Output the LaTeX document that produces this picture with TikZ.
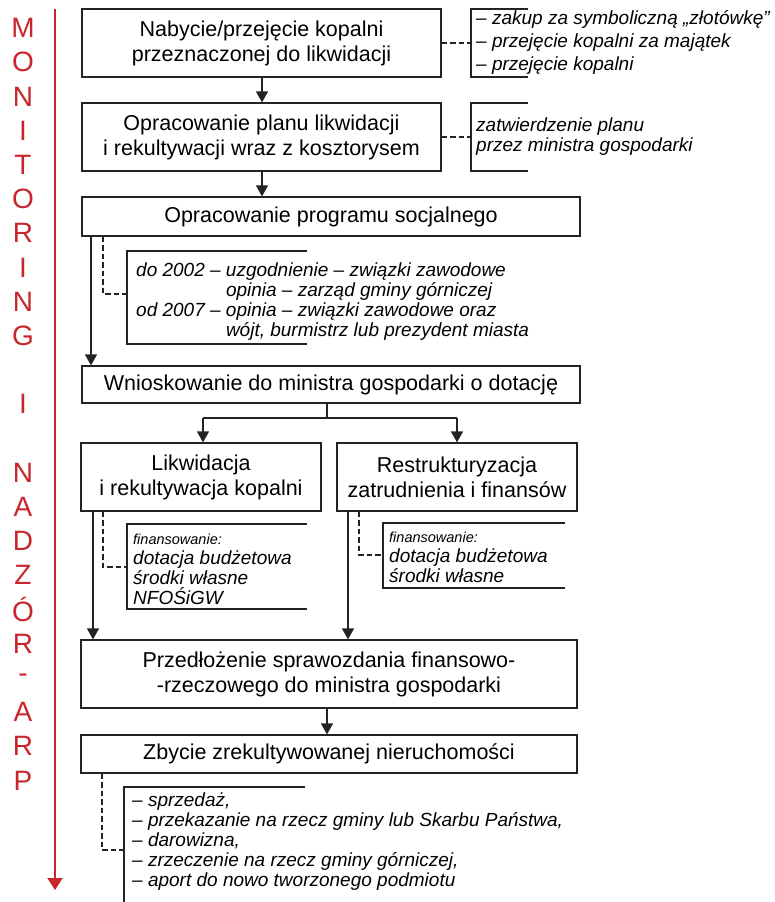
\documentclass[tikz,border=0pt]{standalone}
\usepackage{fontspec}
\setmainfont{Liberation Sans}
\usetikzlibrary{arrows.meta}

\definecolor{monred}{RGB}{200,38,44}
\definecolor{ink}{RGB}{35,35,35}

\begin{document}
\begin{tikzpicture}[x=1pt,y=-1pt,
  box/.style={draw=ink, line width=1.2pt, inner sep=0pt, align=center,
              font=\fontsize{21.5}{25}\selectfont},
  note/.style={anchor=west, inner sep=0pt, align=left,
               font=\itshape\fontsize{19}{20}\selectfont},
  bracket/.style={draw=ink, line width=1.1pt},
  link/.style={draw=ink, line width=1.1pt, dash pattern=on 5.5pt off 3pt},
  arr/.style={draw=ink, line width=1.2pt, -{Triangle[width=12pt,length=11pt]}},
  flow/.style={draw=ink, line width=1.2pt},
  letter/.style={text=monred, inner sep=0pt, font=\fontsize{28}{28}\selectfont}
]
\useasboundingbox (0,0) rectangle (775,902);

% vertical monitoring axis
\coordinate (mtop) at (55,9);
\coordinate (mbot) at (55,890);
\draw[monred, line width=2pt, -{Triangle[width=15pt,length=12pt]}] (mtop) -- (mbot);
\foreach \ch/\k in {M/0,O/1,N/2,I/3,T/4,O/5,R/6,I/7,N/8,G/9,I/11,
                    N/13,A/14,D/15,Z/16,Ó/17,R/18,-/19,A/20,R/21,P/22}
  \node[letter] (m\k) at (23,28+34.2*\k) {\ch};

% main process boxes
\node[box, minimum width=359pt, minimum height=68pt] (b1) at (261.5,43)
  {Nabycie/przejęcie kopalni\\przeznaczonej do likwidacji};
\node[box, minimum width=359pt, minimum height=68pt] (b2) at (261.5,137)
  {Opracowanie planu likwidacji\\i rekultywacji wraz z kosztorysem};
\node[box, minimum width=498pt, minimum height=39pt] (b3) at (331,216.5)
  {Opracowanie programu socjalnego};
\node[box, minimum width=498pt, minimum height=37pt] (b4) at (331,384.5)
  {Wnioskowanie do ministra gospodarki o dotację};
\node[box, minimum width=240pt, minimum height=68pt] (b5) at (201,477)
  {Likwidacja\\i rekultywacja kopalni};
\node[box, minimum width=240pt, minimum height=68pt] (b6) at (457,477)
  {Restrukturyzacja\\zatrudnienia i finansów};
\node[box, minimum width=496pt, minimum height=68pt] (b7) at (329,674)
  {Przedłożenie sprawozdania finansowo-\\-rzeczowego do ministra gospodarki};
\node[box, minimum width=496pt, minimum height=38pt] (b8) at (329,754)
  {Zbycie zrekultywowanej nieruchomości};

% side notes
\node[note, font=\itshape\fontsize{19}{23}\selectfont] (n1) at (476,42)
  {– zakup za symboliczną „złotówkę”\\– przejęcie kopalni za majątek\\– przejęcie kopalni};
\node[note] (n2) at (476,137)
  {zatwierdzenie planu\\przez ministra gospodarki};
\node[note] (n3) at (136,302)
  {\begin{tabular}{@{}l@{}l@{}}
   do 2002 – \mbox{} & uzgodnienie – związki zawodowe\\
                     & opinia – zarząd gminy górniczej\\
   od 2007 – \mbox{} & opinia – związki zawodowe oraz\\
                     & wójt, burmistrz lub prezydent miasta
   \end{tabular}};
\node[note] (n5) at (133,569)
  {{\fontsize{14.5}{20}\selectfont finansowanie:}\\dotacja budżetowa\\środki własne\\NFOŚiGW};
\node[note] (n6) at (389,557)
  {{\fontsize{14.5}{20}\selectfont finansowanie:}\\dotacja budżetowa\\środki własne};
\node[note] (n8) at (132,842)
  {– sprzedaż,\\– przekazanie na rzecz gminy lub Skarbu Państwa,\\– darowizna,\\– zrzeczenie na rzecz gminy górniczej,\\– aport do nowo tworzonego podmiotu};

% brackets framing the notes
\draw[bracket] (528,9) -- (471,9) -- (471,77) -- (528,77);
\draw[bracket] (528,103) -- (471,103) -- (471,171) -- (528,171);
\draw[bracket] (307,251) -- (127,251) -- (127,344) -- (307,344);
\draw[bracket] (307,524) -- (127,524) -- (127,609) -- (307,609);
\draw[bracket] (565,523) -- (383,523) -- (383,588) -- (565,588);
\draw[bracket] (305,787) -- (124,787) -- (124,905);

\coordinate (k1) at (471,43);
\coordinate (k2) at (471,137);
\coordinate (k3) at (127,294);
\coordinate (k5) at (127,567);
\coordinate (k6) at (383,555);
\coordinate (k8) at (124,850);

% dashed links from boxes to their notes
\draw[link] (b1.east |- k1) -- (k1);
\draw[link] (b2.east |- k2) -- (k2);
\draw[link] (103,0 |- b3.south) |- (k3);
\draw[link] (103,0 |- b5.south) |- (k5);
\draw[link] (359,0 |- b6.south) |- (k6);
\draw[link] (102,0 |- b8.south) |- (k8);

% process flow
\draw[arr] (262,0 |- b1.south) -- (262,0 |- b2.north);
\draw[arr] (262,0 |- b2.south) -- (262,0 |- b3.north);
\draw[arr] (91,0 |- b3.south) -- (91,0 |- b4.north);
\coordinate (split) at (327,418);
\draw[flow] (327,0 |- b4.south) -- (split);
\draw[flow] (203,418) -- (457,418);
\draw[arr] (203,418) -- (203,0 |- b5.north);
\draw[arr] (457,418) -- (457,0 |- b6.north);
\draw[arr] (93,0 |- b5.south) -- (93,0 |- b7.north);
\draw[arr] (348,0 |- b6.south) -- (348,0 |- b7.north);
\draw[arr] (327,0 |- b7.south) -- (327,0 |- b8.north);
\end{tikzpicture}
\end{document}
